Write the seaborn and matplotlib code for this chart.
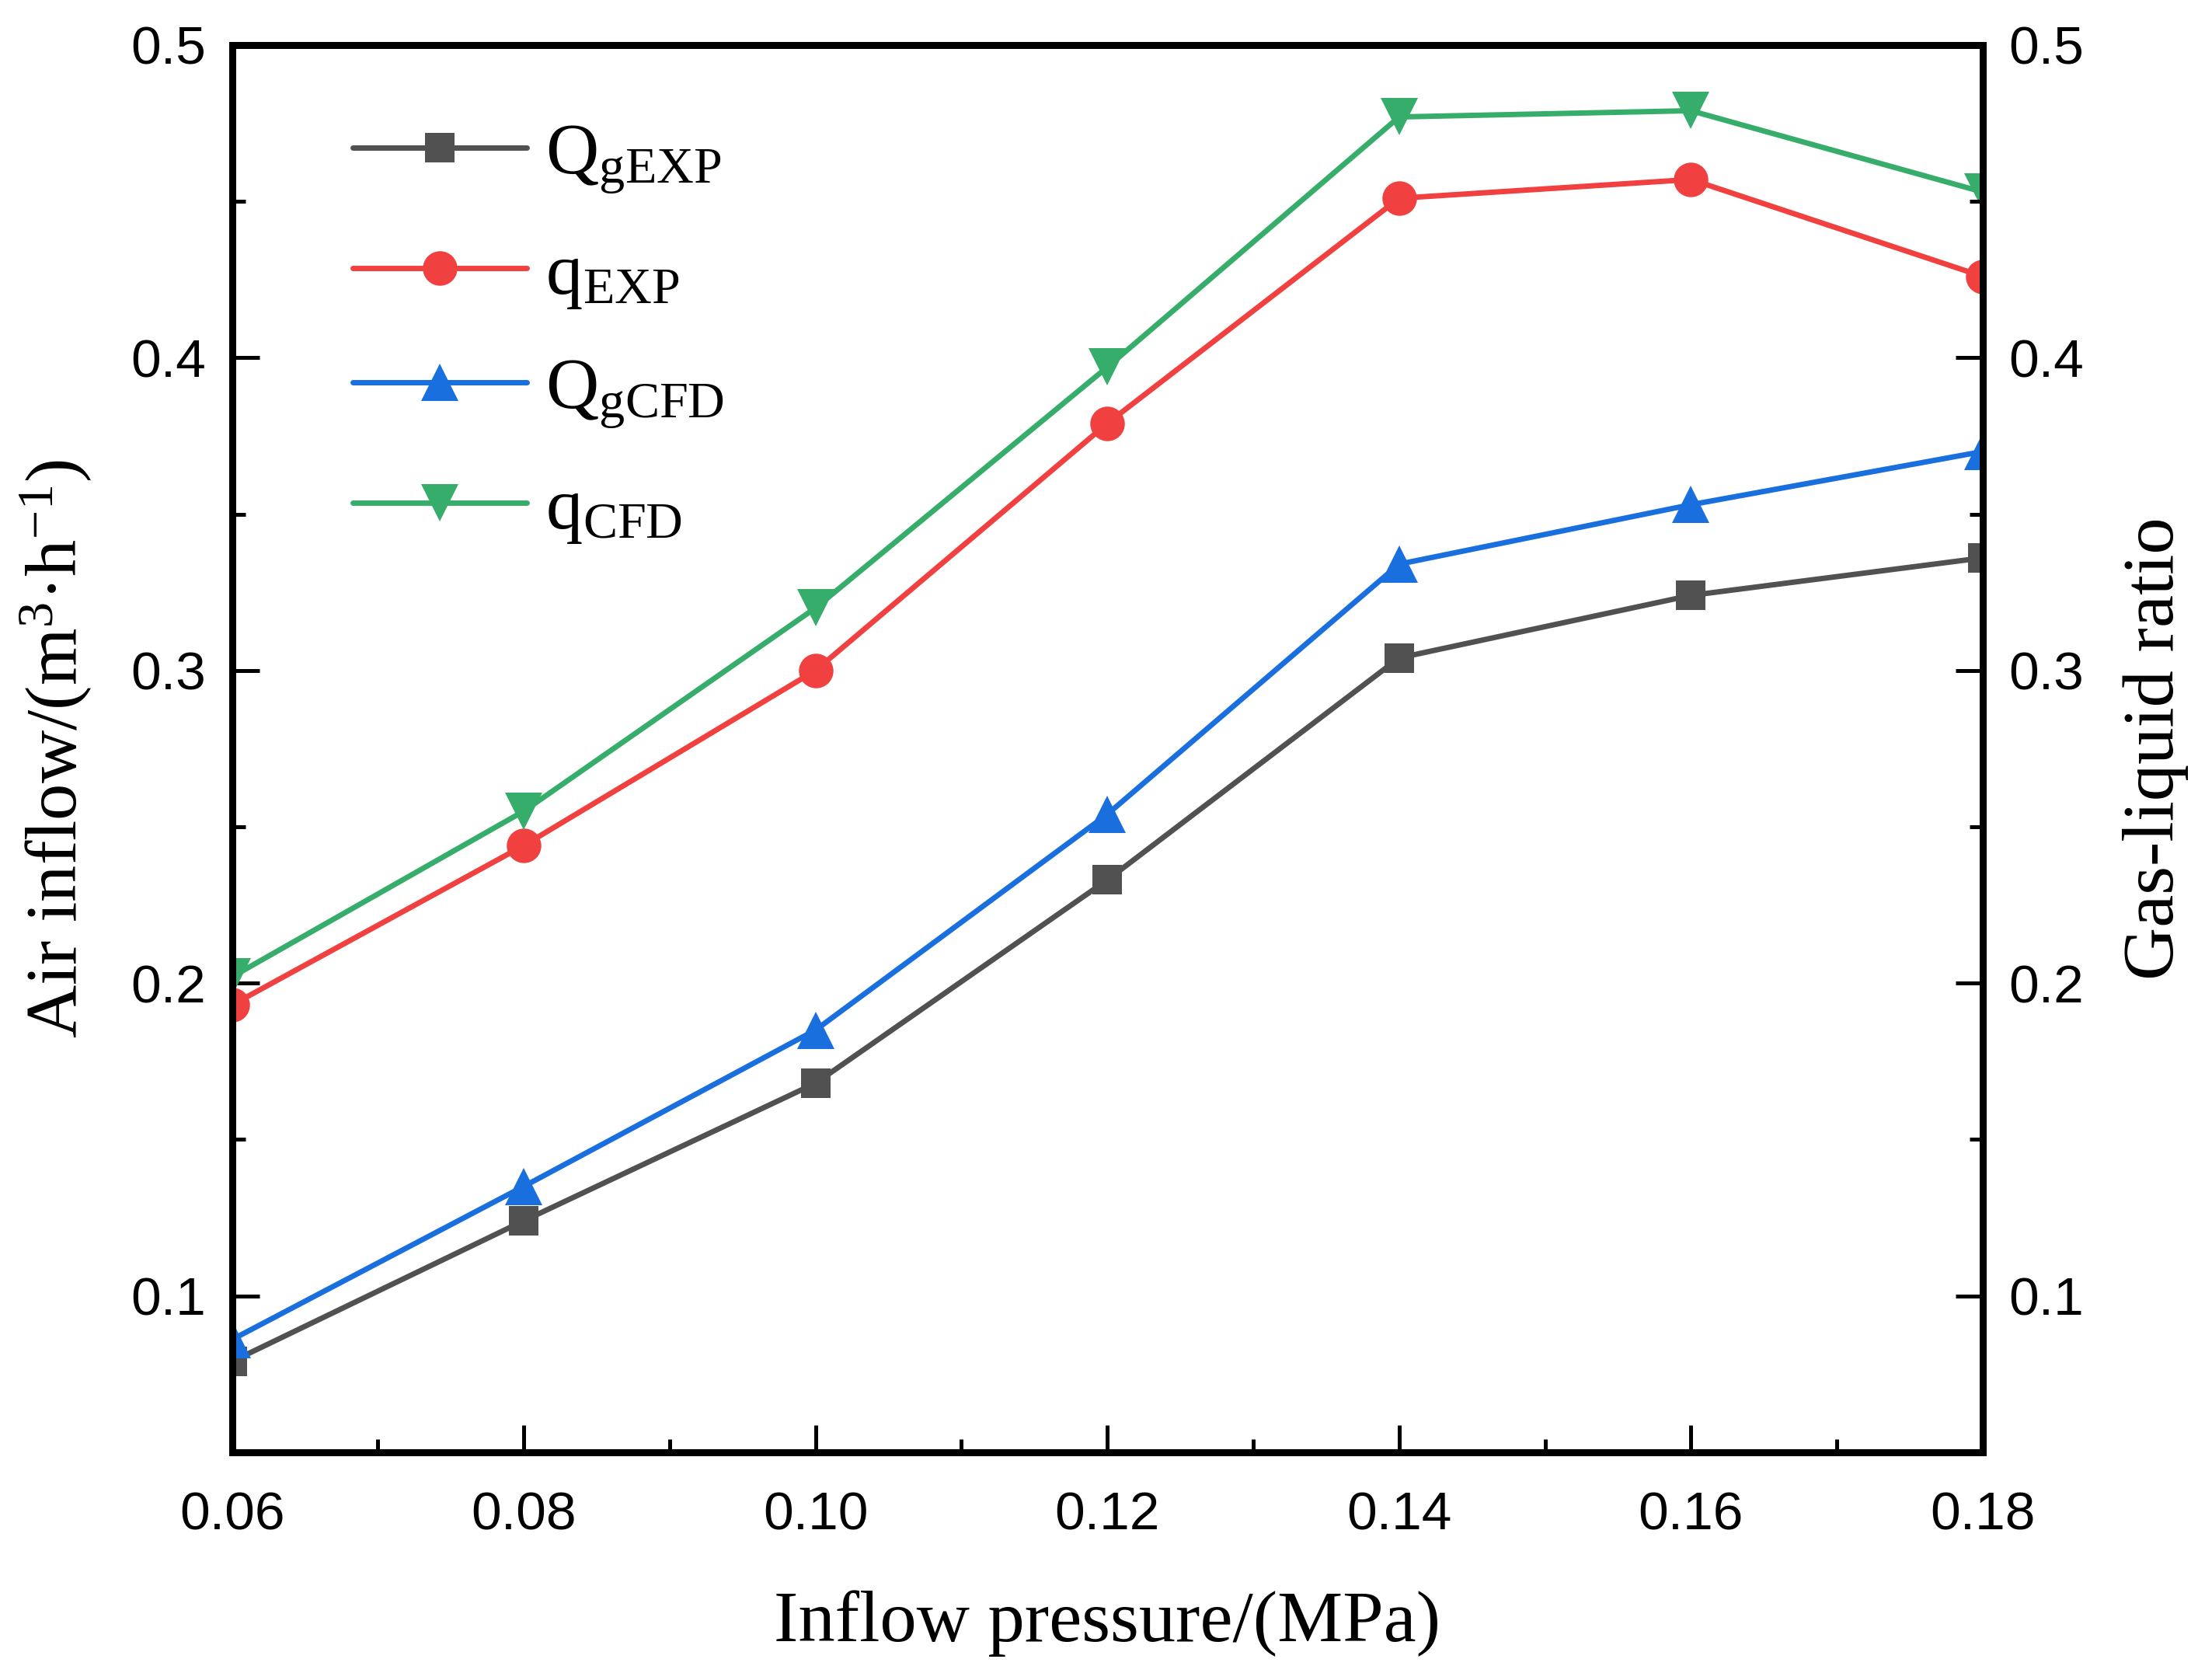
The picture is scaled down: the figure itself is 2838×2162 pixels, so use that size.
import seaborn as sns
import pandas as pd
import numpy as np
import matplotlib.pyplot as plt
from matplotlib.ticker import MultipleLocator, FormatStrFormatter


sns.set_theme(style="ticks")
plt.rcParams['font.family'] = ['Liberation Serif', 'DejaVu Serif']
plt.rcParams['mathtext.fontset'] = 'custom'
plt.rcParams['mathtext.rm'] = 'Liberation Serif'
plt.rcParams['mathtext.it'] = 'Liberation Serif:italic'
plt.rcParams['text.color'] = 'black'
plt.rcParams['axes.labelcolor'] = 'black'
plt.rcParams['xtick.color'] = 'black'
plt.rcParams['ytick.color'] = 'black'

# data
pressure = [0.06, 0.08, 0.10, 0.12, 0.14, 0.16, 0.18]
q_g_exp = [0.079, 0.124, 0.168, 0.233, 0.304, 0.324, 0.336]
q_exp = [0.193, 0.244, 0.300, 0.379, 0.451, 0.457, 0.426]
q_g_cfd = [0.086, 0.135, 0.185, 0.254, 0.334, 0.353, 0.370]
q_cfd = [0.202, 0.255, 0.320, 0.397, 0.477, 0.479, 0.453]

labels = [r'Q$_{\mathrm{gEXP}}$', r'q$_{\mathrm{EXP}}$',
          r'Q$_{\mathrm{gCFD}}$', r'q$_{\mathrm{CFD}}$']
colors = ['#515151', '#F14040', '#1A6FDF', '#37AD6B']
markers = ['s', 'o', '^', 'v']
sizes = [14, 16, 17, 17]

df = pd.DataFrame({
    'pressure': pressure * 4,
    'value': q_g_exp + q_exp + q_g_cfd + q_cfd,
    'series': sum([[l] * len(pressure) for l in labels], []),
})

fig = plt.figure(figsize=(14.19, 10.81), dpi=200)
ax = fig.add_axes([0.1052, 0.1356, 0.7940, 0.8376])

for lab, c, m, s in zip(labels, colors, markers, sizes):
    sns.lineplot(data=df[df['series'] == lab], x='pressure', y='value',
                 color=c, marker=m, markersize=s, markeredgewidth=0,
                 linewidth=2.5, label=lab, ax=ax)

ax.set_xlim(0.06, 0.18)
ax.set_ylim(0.05, 0.5)
ax.xaxis.set_major_locator(MultipleLocator(0.02))
ax.xaxis.set_minor_locator(MultipleLocator(0.01))
ax.xaxis.set_major_formatter(FormatStrFormatter('%.2f'))
ax.yaxis.set_major_locator(MultipleLocator(0.1))
ax.yaxis.set_minor_locator(MultipleLocator(0.05))
ax.yaxis.set_major_formatter(FormatStrFormatter('%.1f'))

ax.set_xlabel('Inflow pressure/(MPa)', fontsize=34, labelpad=23)
ax.set_ylabel(r'Air inflow/(m$^{3}$·h$^{-1}$)', fontsize=34, labelpad=17)

ax2 = ax.twinx()
ax2.set_ylim(0.05, 0.5)
ax2.yaxis.set_major_locator(MultipleLocator(0.1))
ax2.yaxis.set_minor_locator(MultipleLocator(0.05))
ax2.yaxis.set_major_formatter(FormatStrFormatter('%.1f'))
ax2.set_ylabel('Gas-liquid ratio', fontsize=34, labelpad=18)

for a in (ax, ax2):
    for sp in a.spines.values():
        sp.set_visible(True)
        sp.set_linewidth(3.2)
        sp.set_color('black')
    a.tick_params(which='major', direction='in', length=12.5, width=1.8,
                  labelsize=25, pad=12, colors='black')
    a.tick_params(which='minor', direction='in', length=6, width=1.8)
ax.tick_params(axis='x', pad=18)
ax.tick_params(top=False, right=False, which='both')
ax2.tick_params(left=False, top=False, which='both')

for t in ax.get_xticklabels() + ax.get_yticklabels() + ax2.get_yticklabels():
    t.set_fontfamily(['Liberation Sans', 'DejaVu Sans'])

leg = ax.legend(loc='upper left', bbox_to_anchor=(0.052, 0.966), frameon=False,
                fontsize=34, handlelength=2.38, handletextpad=0.25,
                labelspacing=0.63, borderaxespad=0)

fig.savefig('out.png', dpi=200)
